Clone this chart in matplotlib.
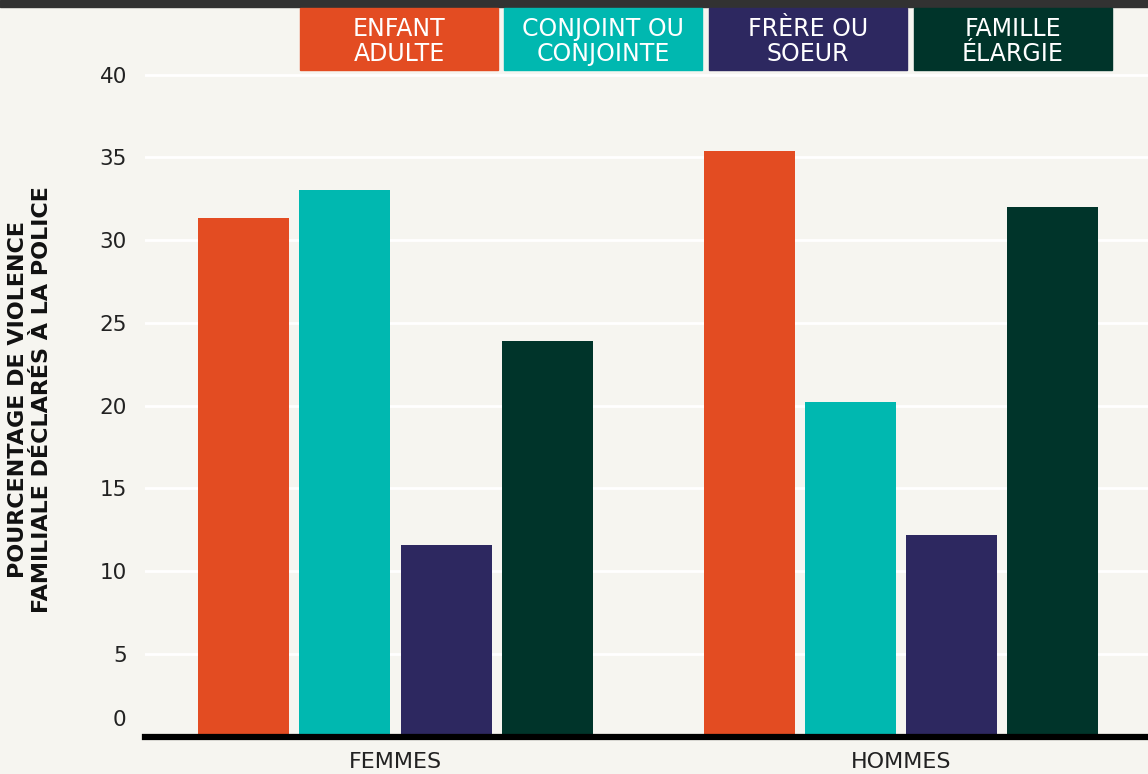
import matplotlib.pyplot as plt
import numpy as np
from matplotlib.patches import Rectangle

# data
groups = ["FEMMES", "HOMMES"]
series = ["ENFANT\nADULTE", "CONJOINT OU\nCONJOINTE", "FRÈRE OU\nSOEUR", "FAMILLE\nÉLARGIE"]
enfant_adulte = [31.3, 35.4]
conjoint = [33.0, 20.2]
frere_soeur = [11.6, 12.2]
famille_elargie = [23.9, 32.0]
colors = ["#E34C22", "#00B8B0", "#2D2860", "#00342A"]
yticks = [5, 10, 15, 20, 25, 30, 35, 40]

BG = "#F6F5F0"
FONT = "DejaVu Sans"
TXT = "#222222"

fig = plt.figure(figsize=(11.48, 7.74), dpi=100, facecolor=BG)
W, H = 1148, 774

# dark strip along the top
fig.patches.append(Rectangle((0, 1 - 7 / H), 1, 7 / H, transform=fig.transFigure,
                             color="#323232", zorder=0))

ymax = 40.5
px_per_unit = 16.55
ax_left = 145
ax_bottom = (H - 736.5) / H
ax_height = ymax * px_per_unit / H
ax = fig.add_axes([ax_left / W, ax_bottom, (W - ax_left) / W, ax_height])
ax.set_facecolor(BG)

values = [enfant_adulte, conjoint, frere_soeur, famille_elargie]
x = np.arange(len(groups))
step = 0.2
width = 0.18
for i, (vals, color) in enumerate(zip(values, colors)):
    ax.bar(x + (i - 1.5) * step, vals, width=width, color=color, zorder=2)

ax.set_xlim(-0.4955, 1.4886)
ax.set_ylim(0, ymax)

ax.set_yticks(yticks)
ax.set_yticklabels([str(t) for t in yticks], fontsize=15.5, fontfamily=FONT, color=TXT)
ax.tick_params(axis="y", length=0, pad=13)
ax.grid(axis="y", color="white", linewidth=2, zorder=1)
ax.set_axisbelow(True)

ax.set_xticks(x)
ax.set_xticklabels(groups, fontsize=16, fontfamily=FONT, color=TXT)
ax.tick_params(axis="x", length=0, pad=11)

for side in ["top", "right", "left"]:
    ax.spines[side].set_visible(False)
ax.spines["bottom"].set_linewidth(4.5)
ax.spines["bottom"].set_color("black")
ax.spines["bottom"].set_zorder(3)

# the "0" label sits above the baseline
ax.text(-19 / (W - ax_left), 1.0, "0", transform=ax.get_yaxis_transform(), ha="right",
        va="center", fontsize=15.5, fontfamily=FONT, color=TXT)

fig.text(30 / W, 1 - 400 / H, "POURCENTAGE DE VIOLENCE\nFAMILIALE DÉCLARÉS À LA POLICE",
         rotation=90, ha="center", va="center", fontsize=16, fontweight="bold",
         fontfamily=FONT, color="#111111", linespacing=1.2)

# legend boxes
box_left = [300, 504, 709, 914]
box_w, box_top, box_h = 198, 8, 62
for left, label, color in zip(box_left, series, colors):
    fig.patches.append(Rectangle((left / W, 1 - (box_top + box_h) / H), box_w / W, box_h / H,
                                 transform=fig.transFigure, color=color, zorder=3))
    fig.text((left + box_w / 2) / W, 1 - (box_top + 33.5) / H, label, ha="center",
             va="center", fontsize=17, fontfamily=FONT, color="white", linespacing=1.08,
             zorder=4)

fig.savefig("out.png", dpi=100, facecolor=BG)
